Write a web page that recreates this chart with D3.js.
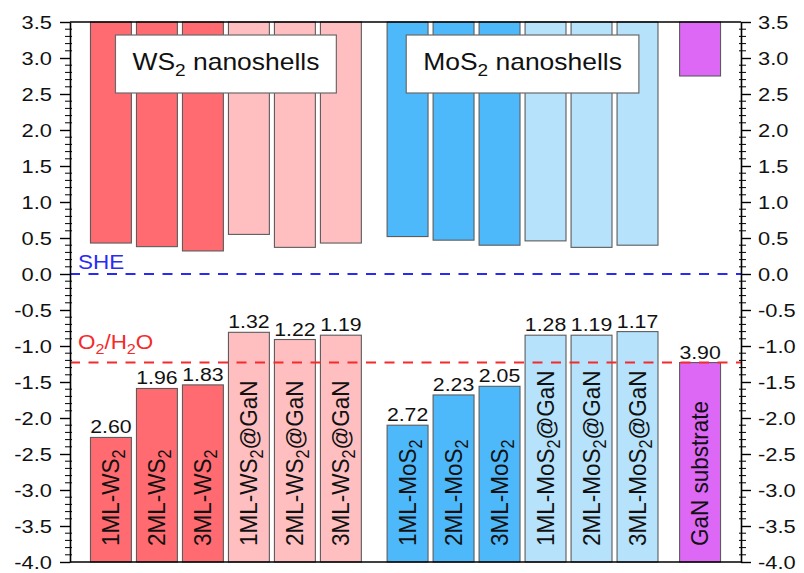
<!DOCTYPE html>
<html>
<head>
<meta charset="utf-8">
<script src="https://cdn.jsdelivr.net/npm/d3@7"></script>
<style>
  html, body { margin: 0; padding: 0; background: #fff; }
  svg { display: block; }
  text { font-family: "Liberation Sans", Arial, Helvetica, sans-serif; fill: #111; }
</style>
</head>
<body>
<svg id="chart" width="804" height="573"></svg>
<script>
// Band-edge positions (V vs. SHE) of WS2 / MoS2 nanoshells and the GaN substrate.
// "_2" marks a subscript 2 in a label.
const categories = [
  "1ML-WS_2", "2ML-WS_2", "3ML-WS_2",
  "1ML-WS_2@GaN", "2ML-WS_2@GaN", "3ML-WS_2@GaN",
  "1ML-MoS_2", "2ML-MoS_2", "3ML-MoS_2",
  "1ML-MoS_2@GaN", "2ML-MoS_2@GaN", "3ML-MoS_2@GaN",
  "GaN substrate"
];
const groups = [
  "WS2", "WS2", "WS2", "WS2", "WS2", "WS2",
  "MoS2", "MoS2", "MoS2", "MoS2", "MoS2", "MoS2",
  "GaN"
];
const variants = [
  "bare", "bare", "bare", "gan", "gan", "gan",
  "bare", "bare", "bare", "gan", "gan", "gan",
  "substrate"
];
// conduction band minimum (upper bars hang from the top down to this level)
const cbm = [0.43, 0.38, 0.32, 0.55, 0.37, 0.43, 0.52, 0.47, 0.40, 0.46, 0.37, 0.40, 2.75];
// valence band maximum (lower bars rise from the bottom up to this level)
const vbm = [-2.27, -1.59, -1.54, -0.81, -0.91, -0.85, -2.10, -1.68, -1.56, -0.85, -0.85, -0.80, -1.23];
// band gaps (eV) printed above the lower bars
const gapLabels = ["2.60", "1.96", "1.83", "1.32", "1.22", "1.19", "2.72", "2.23", "2.05", "1.28", "1.19", "1.17", "3.90"];

const yTicks = [3.5, 3.0, 2.5, 2.0, 1.5, 1.0, 0.5, 0.0, -0.5, -1.0, -1.5, -2.0, -2.5, -3.0, -3.5, -4.0];
const yDomain = [-4.0, 3.5];
const referenceLevels = [
  { name: "SHE", value: 0.0, color: "#2a2af5" },
  { name: "O_2/H_2O", value: -1.23, color: "#f52a2a" }
];
const groupTitles = [
  { group: "WS2", text: "WS_2 nanoshells" },
  { group: "MoS2", text: "MoS_2 nanoshells" }
];

// ---- layout & style ----
const margin = { left: 70, right: 63, top: 22, bottom: 11 };
const W = 804, H = 573;
const fills = {
  WS2:  { bare: "#ff6b70", gan: "#ffbfc1" },
  MoS2: { bare: "#4eb9fa", gan: "#b6e2fb" },
  GaN:  { substrate: "#de68f6" }
};
const groupShift = { WS2: 0, MoS2: 0.45, GaN: 0.81 };
const barWidth = 0.89;
const stretch = 1.15;

const svg = d3.select("#chart");
const slot = categories.map((c, i) => i + groupShift[groups[i]]);

const x = d3.scaleLinear()
  .domain([slot[0] - barWidth, slot[slot.length - 1] + barWidth])
  .range([margin.left, W - margin.right]);
const y = d3.scaleLinear().domain(yDomain).range([H - margin.bottom, margin.top]);

// writes a label with "_2"-style subscripts into a text selection
function richText(sel, str, size) {
  const parts = str.split("_");
  sel.text(null);
  parts.forEach((p, k) => {
    if (k === 0) { sel.append("tspan").text(p); return; }
    sel.append("tspan").attr("font-size", size * 0.72).attr("dy", size * 0.26).text(p[0]);
    if (p.length > 1) sel.append("tspan").attr("dy", -size * 0.26).attr("font-size", size).text(p.slice(1));
  });
}

const data = categories.map((c, i) => ({
  name: c, group: groups[i], variant: variants[i],
  cb: cbm[i], vb: vbm[i], gap: gapLabels[i], pos: slot[i]
}));

const bars = svg.append("g");
const bw = x(barWidth) - x(0);

// upper (conduction band) bars
bars.selectAll("rect.cb").data(data).join("rect")
  .attr("class", "cb")
  .attr("x", d => x(d.pos) - bw / 2)
  .attr("width", bw)
  .attr("y", y(yDomain[1]))
  .attr("height", d => y(d.cb) - y(yDomain[1]))
  .attr("fill", d => fills[d.group][d.variant])
  .attr("stroke", "#5c5c5c").attr("stroke-width", 1.1);

// lower (valence band) bars
bars.selectAll("rect.vb").data(data).join("rect")
  .attr("class", "vb")
  .attr("x", d => x(d.pos) - bw / 2)
  .attr("width", bw)
  .attr("y", d => y(d.vb))
  .attr("height", d => y(yDomain[0]) - y(d.vb))
  .attr("fill", d => fills[d.group][d.variant])
  .attr("stroke", "#5c5c5c").attr("stroke-width", 1.1);

// rotated sample names inside the lower bars
const nameSize = 22.5;
bars.selectAll("text.name").data(data).join("text")
  .attr("class", "name")
  .attr("transform", d => `translate(${x(d.pos) + 8},${y(yDomain[0]) - 16}) scale(1.08,1) rotate(-90)`)
  .attr("font-size", nameSize)
  .each(function (d) { richText(d3.select(this), d.name, nameSize); });

// band-gap values above the lower bars
const gapSize = 18.5;
bars.selectAll("text.gap").data(data).join("text")
  .attr("class", "gap")
  .attr("transform", d => `translate(${x(d.pos)},${y(d.vb) - 4}) scale(${stretch},1)`)
  .attr("text-anchor", "middle")
  .attr("font-size", gapSize)
  .text(d => d.gap);

// reference potentials
const refs = svg.append("g");
refs.selectAll("line").data(referenceLevels).join("line")
  .attr("x1", x.range()[0]).attr("x2", x.range()[1])
  .attr("y1", d => y(d.value)).attr("y2", d => y(d.value))
  .attr("stroke", d => d.color).attr("stroke-width", 2)
  .attr("stroke-dasharray", "10,8.5");
const refSize = 19.5;
refs.selectAll("text").data(referenceLevels).join("text")
  .attr("transform", d => `translate(${x.range()[0] + 8},${y(d.value) - (d.value === 0 ? 5 : 14)}) scale(${stretch},1)`)
  .attr("font-size", refSize)
  .style("fill", d => d.color)
  .each(function (d) { richText(d3.select(this), d.name, refSize); });

// group title boxes
const titleSize = 23;
groupTitles.forEach(t => {
  const idx = data.filter(d => d.group === t.group);
  const cx = (x(idx[0].pos) + x(idx[idx.length - 1].pos)) / 2;
  const g = svg.append("g");
  const rect = g.append("rect");
  const txt = g.append("text")
    .attr("transform", `translate(${cx},${y(3.5) + 48}) scale(${stretch},1)`)
    .attr("text-anchor", "middle")
    .attr("font-size", titleSize);
  richText(txt, t.text, titleSize);
  const w = txt.node().getComputedTextLength() * stretch + 34;
  rect.attr("x", cx - w / 2).attr("width", w)
    .attr("y", y(3.5) + 13).attr("height", 58)
    .attr("fill", "#fff").attr("stroke", "#6a6a6a").attr("stroke-width", 1.2);
});

// axes
const axes = svg.append("g");
const minor = d3.range(-40, 36).map(v => v / 10).filter(v => Math.abs(Math.round(v * 2) - v * 2) > 1e-6);
const fmt = v => v.toFixed(1);

const left = axes.append("g").attr("transform", `translate(${x.range()[0]},0)`)
  .call(d3.axisLeft(y).tickValues(yTicks).tickFormat(fmt).tickSize(10).tickPadding(5.7).tickSizeOuter(0));
const right = axes.append("g").attr("transform", `translate(${x.range()[1]},0)`)
  .call(d3.axisRight(y).tickValues(yTicks).tickFormat(fmt).tickSize(10).tickPadding(4.8).tickSizeOuter(0));
[left, right].forEach(a => {
  a.select(".domain").attr("stroke", "#000").attr("stroke-width", 1.6);
  a.selectAll(".tick line").attr("stroke", "#000").attr("stroke-width", 1.4);
  a.selectAll(".tick text").attr("font-size", 19)
    .attr("font-family", "Liberation Sans, Arial, sans-serif")
    .attr("fill", "#222")
    .attr("transform", `scale(${stretch},1)`);
});
left.selectAll("line.minor").data(minor).join("line").attr("class", "minor")
  .attr("x1", -5).attr("x2", 2).attr("y1", d => y(d)).attr("y2", d => y(d))
  .attr("stroke", "#000").attr("stroke-width", 1);
right.selectAll("line.minor").data(minor).join("line").attr("class", "minor")
  .attr("x1", -2).attr("x2", 5).attr("y1", d => y(d)).attr("y2", d => y(d))
  .attr("stroke", "#000").attr("stroke-width", 1);

// top and bottom frame lines
axes.selectAll("line.frame").data(yDomain).join("line").attr("class", "frame")
  .attr("x1", x.range()[0]).attr("x2", x.range()[1])
  .attr("y1", d => y(d)).attr("y2", d => y(d))
  .attr("stroke", "#000").attr("stroke-width", 1.6);
</script>
</body>
</html>
